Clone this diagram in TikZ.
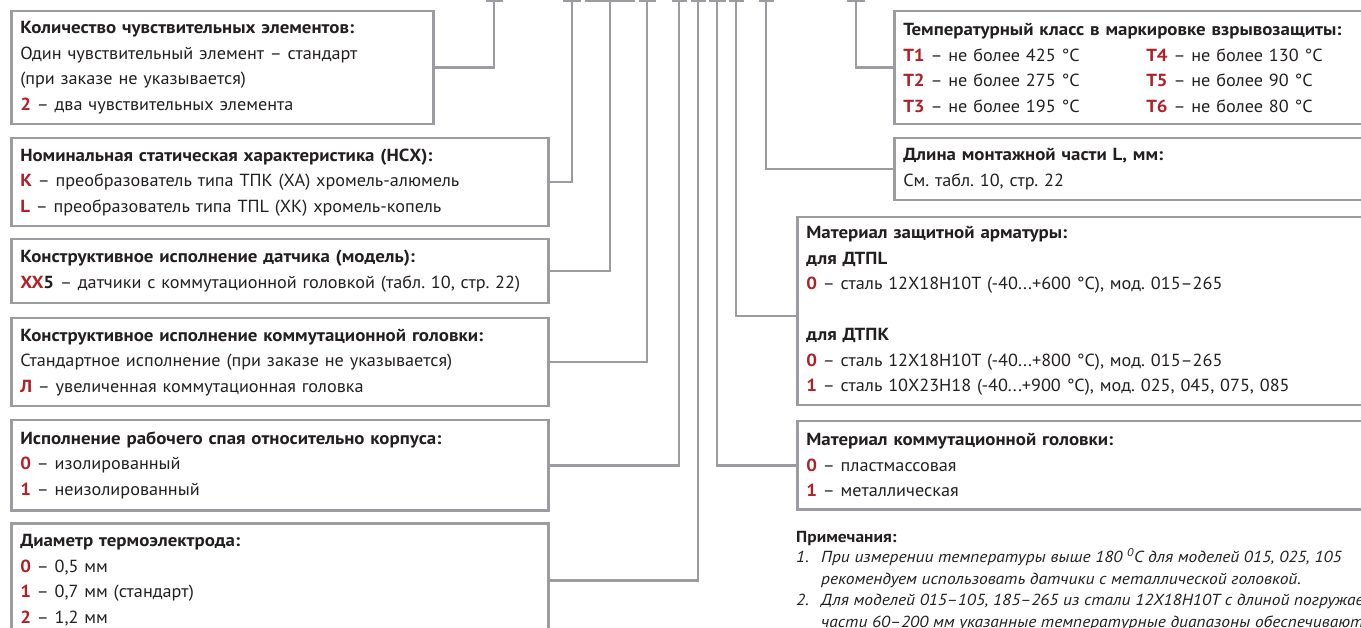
\documentclass[tikz,border=0pt]{standalone}
\usepackage{fontspec}
\setmainfont{PT Sans}[FakeStretch=1.04, BoldFeatures={FakeStretch=1.08}]
\newfontfamily\notefont{PT Sans}[FakeStretch=1.09]
\usepackage{xcolor}
\definecolor{tcred}{RGB}{178,32,38}
\definecolor{tcgray}{RGB}{156,156,160}
\definecolor{tcink}{RGB}{35,31,32}
\usetikzlibrary{positioning,calc}

\newcommand{\code}[1]{\textbf{\color{tcred}#1}}
\frenchspacing

\tikzset{
  infobox/.style={draw=tcgray, line width=2.5pt, anchor=north west, align=left, inner xsep=9pt, inner ysep=0pt, text=tcink, font=\fontsize{17.5}{25.5}\selectfont},
  leader/.style={draw=tcgray, line width=2.5pt},
  notetext/.style={anchor=base west, inner sep=0pt, align=left, text=tcink, font=\notefont\fontsize{16}{21.4}\selectfont\itshape}
}

\begin{document}
\begin{tikzpicture}[x=1pt,y=-1pt]
  \useasboundingbox (0,0) rectangle (1361,628);
  \clip (0,0) rectangle (1361,628);

  %% Left column of boxes
  \node[infobox, minimum width=422pt, minimum height=113pt, text width=404pt] (count) at (10,10) {\textbf{Количество чувствительных элементов:}\\Один чувствительный элемент – стандарт\\(при заказе не указывается)\\\code{2} – два чувствительных элемента};
  \node[infobox, minimum width=537pt, minimum height=88pt, text width=519pt]  (nsx)   at (10,137) {\textbf{Номинальная статическая характеристика (НСХ):}\\\code{K} – преобразователь типа ТПК (ХА) хромель-алюмель\\\code{L} – преобразователь типа ТПL (ХК) хромель-копель};
  \node[infobox, minimum width=537pt, minimum height=64pt, text width=519pt]  (model) at (10,238) {\textbf{Конструктивное исполнение датчика (модель):}\\\code{XX}\textbf{5} – датчики с коммутационной головкой (табл. 10, стр. 22)};
  \node[infobox, minimum width=537pt, minimum height=88pt, text width=519pt]  (head)  at (10,317) {\textbf{Конструктивное исполнение коммутационной головки:}\\Стандартное исполнение (при заказе не указывается)\\\code{Л} – увеличенная коммутационная головка};
  \node[infobox, minimum width=537pt, minimum height=90pt, text width=519pt]  (junct) at (10,419) {\textbf{Исполнение рабочего спая относительно корпуса:}\\\code{0} – изолированный\\\code{1} – неизолированный};
  \node[infobox, minimum width=537pt, minimum height=114pt, text width=519pt] (diam)  at (10,522) {\textbf{Диаметр термоэлектрода:}\\\code{0} – 0,5 мм\\\code{1} – 0,7 мм (стандарт)\\\code{2} – 1,2 мм};

  %% Right column of boxes
  \node[infobox, minimum width=482pt, minimum height=113pt, text width=464pt] (tclass) at (893,10) {\textbf{Температурный класс в маркировке взрывозащиты:}\\\makebox[243pt][l]{\code{T1} – не более 425 °C}\code{T4} – не более 130 °C\\\makebox[243pt][l]{\code{T2} – не более 275 °C}\code{T5} – не более 90 °C\\\makebox[243pt][l]{\code{T3} – не более 195 °C}\code{T6} – не более 80 °C};
  \node[infobox, minimum width=482pt, minimum height=62pt, text width=464pt]  (length) at (893,137) {\textbf{Длина монтажной части L, мм:}\\См. табл. 10, стр. 22};
  \node[infobox, minimum width=579pt, minimum height=188pt, text width=561pt] (armor)  at (796,216) {\textbf{Материал защитной арматуры:}\\\textbf{для ДТПL}\\\code{0} – сталь 12Х18Н10Т (-40...+600 °C), мод. 015–265\\[25.5pt]\textbf{для ДТПК}\\\code{0} – сталь 12Х18Н10Т (-40...+800 °C), мод. 015–265\\\code{1} – сталь 10Х23Н18 (-40...+900 °C), мод. 025, 045, 075, 085};
  \node[infobox, minimum width=579pt, minimum height=88pt, text width=561pt]  (hmat)   at (796,420) {\textbf{Материал коммутационной головки:}\\\code{0} – пластмассовая\\\code{1} – металлическая};

  %% Notes
  \node[anchor=base west, inner sep=0pt, text=tcink, font=\notefont\fontsize{16}{21.4}\selectfont\bfseries] (notes) at (796,542) {Примечания:};
  \node[notetext] (note) at (796,627) {\makebox[25pt][l]{1.}При измерении температуры выше 180 \textsuperscript{0}C для моделей 015, 025, 105\\\hspace*{25pt}рекомендуем использовать датчики с металлической головкой.\\\makebox[25pt][l]{2.}Для моделей 015–105, 185–265 из стали 12Х18Н10Т с длиной погружаемой\\\hspace*{25pt}части 60–200 мм указанные температурные диапазоны обеспечиваются};

  %% Code positions
  \foreach \name/\x/\w in {pcount/494/17, pnsx/572/18, pmodel/610/50, phead/647/17, pjunct/679/15, pdiam/698/15, phmat/717/17, parmor/736/15, plength/766/15, ptclass/856/18} {
    \coordinate (\name) at (\x,0);
    \draw[leader] (\x-\w/2,1) -- (\x+\w/2,1);
  }

  %% Leaders
  \draw[leader] (pcount)  |- (count.east);
  \draw[leader] (pnsx)    |- (nsx.east);
  \draw[leader] (pmodel)  |- (model.east);
  \draw[leader] (phead)   |- (head.east);
  \draw[leader] (pjunct)  |- (junct.east);
  \draw[leader] (pdiam)   |- (diam.east);
  \draw[leader] (phmat)   |- (hmat.west);
  \draw[leader] (parmor)  |- ([yshift=-5pt]armor.west);
  \draw[leader] (plength) |- (length.west);
  \draw[leader] (ptclass) |- (tclass.west);
\end{tikzpicture}
\end{document}
